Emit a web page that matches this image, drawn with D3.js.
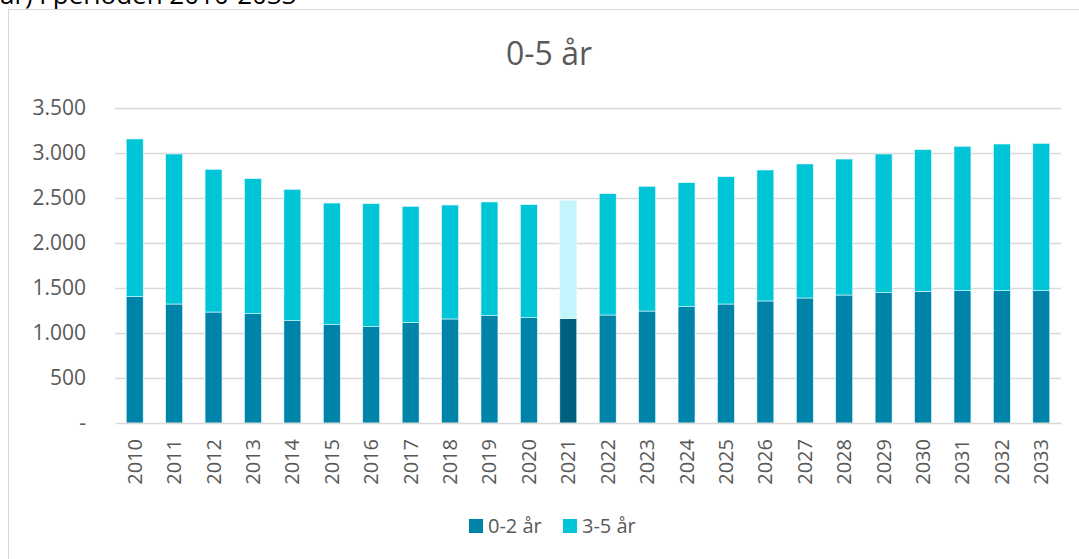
<!DOCTYPE html>
<head>
  <meta charset="utf-8">
  <script src="https://d3js.org/d3.v7.min.js"></script>
  <style>
    body { margin:0; background:#fff; }
    text { font-family: "Open Sans", sans-serif; fill:#595959; }
  </style>
</head>
<body>
  <script>
    // data
    var years = ["2010","2011","2012","2013","2014","2015","2016","2017","2018","2019","2020","2021",
                 "2022","2023","2024","2025","2026","2027","2028","2029","2030","2031","2032","2033"];
    var age02 = [1404,1322,1233,1215,1137,1093,1070,1115,1156,1193,1170,1159,
                 1200,1244,1293,1322,1356,1389,1422,1448,1463,1470,1470,1470];
    var age35 = [1752,1667,1586,1500,1459,1351,1367,1292,1266,1263,1256,1315,
                 1348,1386,1377,1415,1455,1489,1511,1541,1574,1604,1630,1637];
    var seriesNames = ["0-2 år", "3-5 år"];
    var yTicks = [0,500,1000,1500,2000,2500,3000,3500];
    var highlightYear = "2021";

    var colors = { "0-2 år": "#0083A8", "3-5 år": "#00C5D6" };
    var hiColors = { "0-2 år": "#00607F", "3-5 år": "#C4F5FC" };

    var svg = d3.select("body").append("svg")
      .attr("width", 1079)
      .attr("height", 559);

    // heading above the chart frame, cut off by the top edge like in the source
    svg.append("text")
      .attr("x", 0).attr("y", 4)
      .style("fill", "#000")
      .style("font-size", "26px")
      .text("år) i perioden 2010-2033");

    // chart frame
    svg.append("rect")
      .attr("x", 8.5).attr("y", 9.5)
      .attr("width", 1200).attr("height", 700)
      .attr("fill", "none")
      .attr("stroke", "#D9D9D9");

    var rows = years.map(function(y, i) {
      return { year: y, "0-2 år": age02[i], "3-5 år": age35[i] };
    });
    var stacked = d3.stack().keys(seriesNames)(rows);

    var x = d3.scaleBand().domain(years).range([115, 1061])
      .paddingInner(0.57).paddingOuter(0.285);
    var y = d3.scaleLinear().domain([0, 3500]).range([423, 108]);

    var fmt = d3.formatLocale({ decimal: ",", thousands: ".", grouping: [3], currency: ["", ""] }).format(",d");

    // grid
    svg.append("g").selectAll("line")
      .data(yTicks.filter(function(d) { return d > 0; }))
      .enter().append("line")
      .attr("x1", 115).attr("x2", 1061)
      .attr("y1", function(d) { return Math.round(y(d)) + 0.5; })
      .attr("y2", function(d) { return Math.round(y(d)) + 0.5; })
      .attr("stroke", "#D9D9D9")
      .attr("stroke-width", 1.3);

    // bars
    svg.append("g").selectAll("g")
      .data(stacked).enter().append("g")
      .each(function(s) {
        d3.select(this).selectAll("rect")
          .data(s).enter().append("rect")
          .attr("x", function(d) { return x(d.data.year); })
          .attr("width", x.bandwidth())
          .attr("y", function(d) { return y(d[1]); })
          .attr("height", function(d) { return y(d[0]) - y(d[1]); })
          .attr("fill", function(d) { return d.data.year === highlightYear ? hiColors[s.key] : colors[s.key]; })
          .attr("stroke", "#E6FAFD")
          .attr("stroke-width", 0.6);
      });

    // y axis
    var yAxis = d3.axisLeft(y).tickValues(yTicks).tickSize(0).tickPadding(3)
      .tickFormat(function(d) { return d === 0 ? "-" : fmt(d); });
    var gy = svg.append("g").attr("transform", "translate(89,0)").call(yAxis);
    gy.select(".domain").remove();
    gy.selectAll("text").style("font-size", "21px").style("font-family", "Open Sans").attr("fill", "#595959");

    // x axis
    var xAxis = d3.axisBottom(x).tickSize(0).tickSizeOuter(0);
    var gx = svg.append("g").attr("transform", "translate(0,423)").call(xAxis);
    gx.select(".domain").attr("stroke", "#D9D9D9").attr("stroke-width", 1.3);
    gx.selectAll("text")
      .attr("transform", "rotate(-90)")
      .attr("x", -16).attr("y", 0).attr("dy", "0.35em")
      .attr("text-anchor", "end")
      .attr("fill", "#595959")
      .style("font-size", "20px").style("font-family", "Open Sans");

    // title
    svg.append("text")
      .attr("x", 549).attr("y", 65)
      .attr("text-anchor", "middle")
      .style("font-size", "32px")
      .text("0-5 år");

    // legend
    var legendX = [469, 563];
    var legend = svg.append("g").selectAll("g")
      .data(seriesNames).enter().append("g")
      .attr("transform", function(d, i) { return "translate(" + legendX[i] + ",519)"; });
    legend.append("rect")
      .attr("width", 14).attr("height", 14)
      .attr("fill", function(d) { return colors[d]; });
    legend.append("text")
      .attr("x", 19).attr("y", 14)
      .style("font-size", "20px")
      .text(function(d) { return d; });
  </script>
</body>
